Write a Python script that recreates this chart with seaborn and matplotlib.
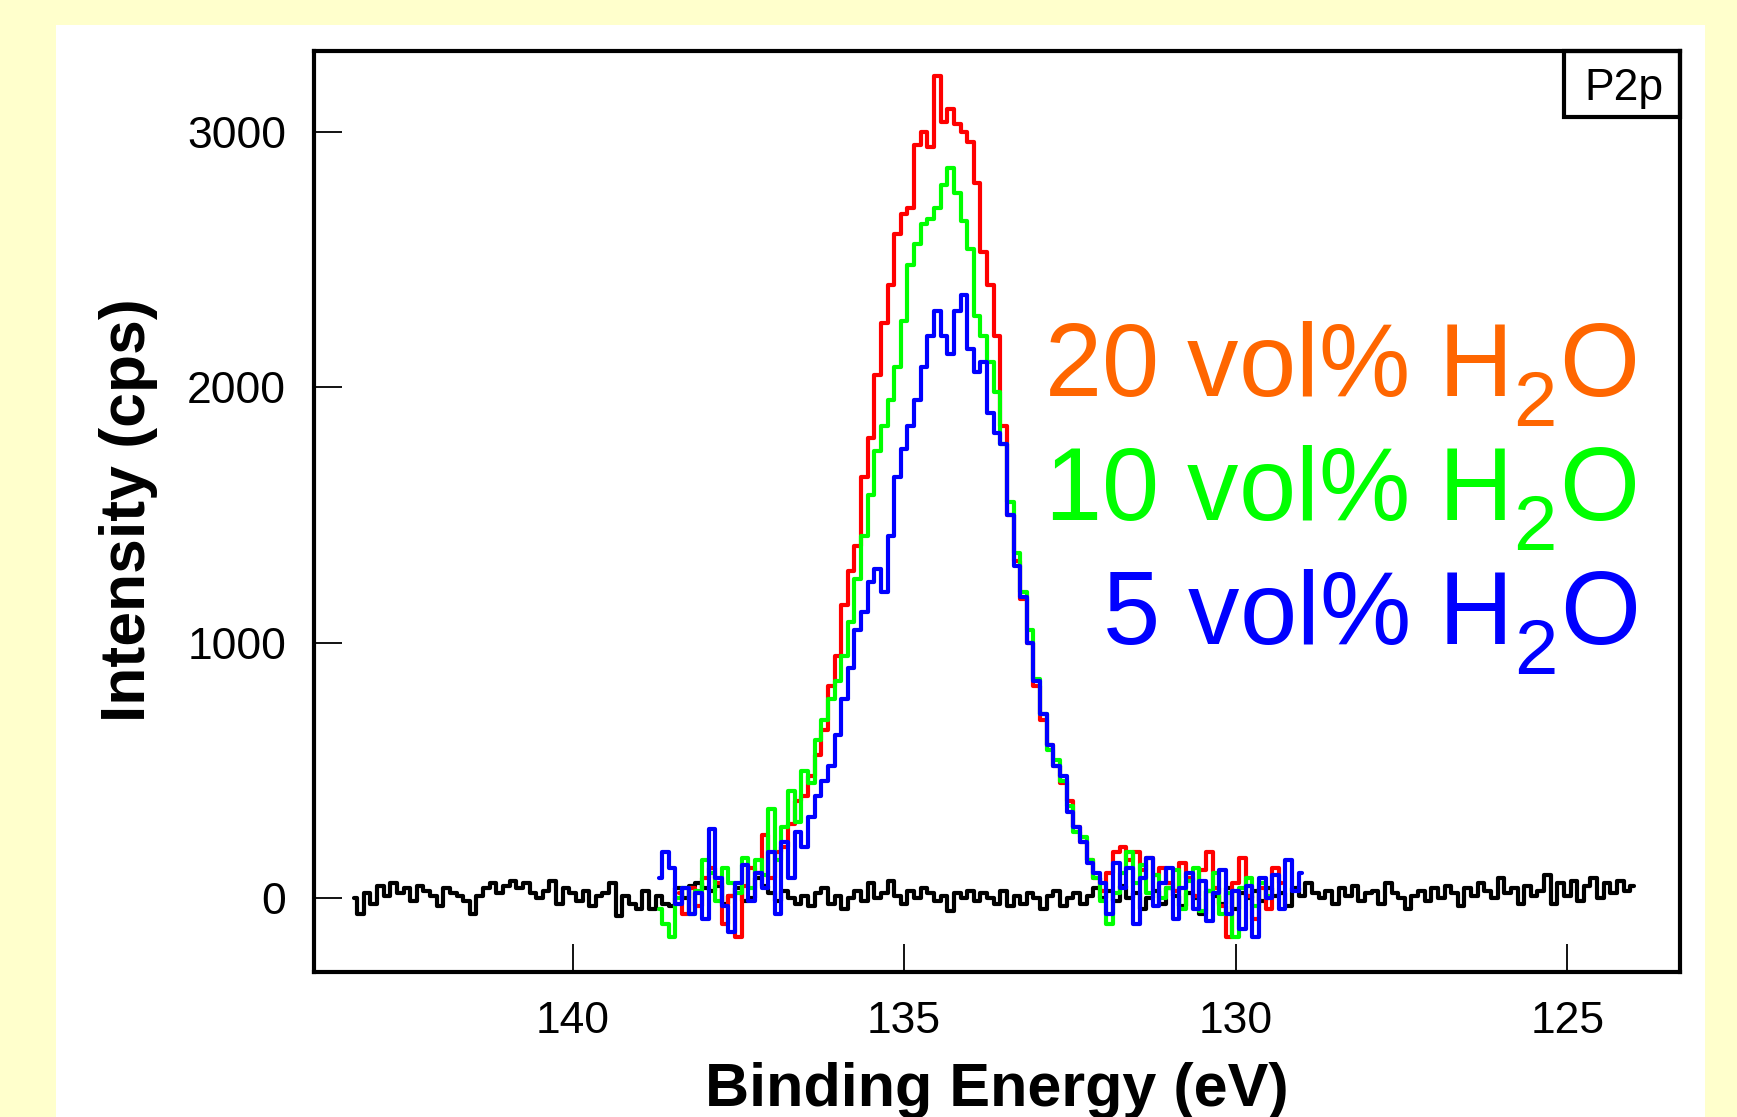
import numpy as np
import pandas as pd
import matplotlib
matplotlib.use("Agg")
import matplotlib.pyplot as plt
import seaborn as sns
from matplotlib.patches import Rectangle

# ---------------- data (binding energy grid start / step, intensity in cps) ----------------
STEP = 0.1
black_start = 143.3
black_vals = [
    0, -60, 20, -20, 50, 10, 60, 20, 40, -10, 50, 30, 10, -30, 40, 20, 10, -10, -60, 10,
    40, 60, 20, 50, 70, 40, 60, 20, 0, 30, 70, -20, 40, 20, -10, 30, -30, 10, 20, 60,
    -70, 10, -20, -40, 30, -40, 10, -20, -30, 40, 0, 50, 60, 40, 30, 50, -20, 10, 40, -10,
    0, 80, 50, 20, -10, 30, 0, -20, 10, -30, 20, 40, -20, 10, -40, 0, 30, -10, 60, 0,
    20, 70, 10, -20, 30, 0, 40, 20, -10, 10, -50, 20, 0, 30, -10, 20, 0, -20, 30, -30,
    10, -20, 20, 0, -40, 10, 30, -30, 0, 20, -20, 10, 40, 0, 30, -10, 50, 0, 20, -40,
    0, 30, -20, 40, 10, -30, 20, 0, -60, 30, 10, -20, 40, -40, 20, 0, 30, -10, 40, 10,
    20, -30, 40, 10, 60, 20, 0, 30, -20, 40, 10, 50, -10, 20, 30, -20, 60, 20, 0, -40,
    10, 30, -10, 40, 0, 50, 20, -30, 40, 10, 60, 30, 0, 80, 20, 40, -20, 50, 10, 30,
    90, -20, 60, 10, 70, -10, 50, 80, 0, 60, 20, 70, 30, 50,
]

red_start = 138.4
red_vals = [
    20, -60, 40, -30, 80, 120, 60, -100, 10, -150,      # 138.4 - 137.5
    50, 120, 100, 250, 80, 180, 200, 290, 380, 400,     # 137.4 - 136.5
    480, 560, 660, 830, 950, 1150, 1280, 1380, 1650, 1800,  # 136.4 - 135.5
    2050, 2250, 2400, 2600, 2680, 2700, 2950, 3000, 2940, 3220,  # 135.4 - 134.5
    3040, 3090, 3030, 3000, 2960, 2800, 2530, 2400, 2200, 1850,  # 134.4 - 133.5
    1500, 1320, 1170, 1000, 830, 700, 600, 520, 450, 380,      # 133.4 - 132.5
    280, 220, 150, 80, 30, 100, 180, 200, 150, 180,            # 132.4 - 131.5
    110, 160, 90, 120, 60, 30, 140, 80, 10, 110,               # 131.4 - 130.5
    180, 40, -30, -150, 60, 160, 10, -80, 40, -40,             # 130.4 - 129.5
    120, 60,                                                   # 129.4 - 129.3
]

green_start = 138.7
green_vals = [
    -40, -100, -150, 0, 40, -60, 30, 150, 100, -10,            # 138.7 - 137.8
    120, 60, 20, 160, 40, 150, 90, 350, 150, 280,              # 137.7 - 136.8
    420, 300, 500, 450, 620, 700, 780, 850, 950, 1080,         # 136.7 - 135.8
    1250, 1420, 1580, 1750, 1850, 1950, 2080, 2260, 2480, 2560,  # 135.7 - 134.8
    2640, 2660, 2700, 2790, 2860, 2760, 2650, 2540, 2280, 2200,  # 134.7 - 133.8
    2100, 1980, 1780, 1550, 1350, 1200, 1050, 860, 720, 580,     # 133.7 - 132.8
    540, 460, 360, 260, 240, 150, 80, -10, -100, 20,             # 132.7 - 131.8
    100, 180, 60, 130, 20, 90, 0, 40, 110, -40,                  # 131.7 - 130.8
    70, 120, -50, 30, 100, -60, 20, -150, 40, 80,                # 130.7 - 129.8
    -30, 60, 10,                                                 # 129.7 - 129.5
]

blue_start = 138.7
blue_vals = [
    80, 180, 120, -20, 40, -60, 20, -80, 270, 80,                # 138.7 - 137.8
    -30, -130, 60, 130, -10, 100, 40, 180, -60, 220,             # 137.7 - 136.8
    80, 260, 200, 320, 400, 460, 520, 640, 780, 900,             # 136.7 - 135.8
    1050, 1120, 1240, 1290, 1200, 1420, 1650, 1760, 1850, 1950,  # 135.7 - 134.8
    2080, 2200, 2300, 2200, 2130, 2300, 2360, 2150, 2060, 2100,  # 134.7 - 133.8
    1900, 1820, 1780, 1500, 1300, 1180, 1000, 850, 720, 600,     # 133.7 - 132.8
    520, 480, 340, 280, 220, 140, 100, 60, -60, 140,             # 132.7 - 131.8
    40, 120, -100, 80, 160, -30, 60, 120, -80, 40,               # 131.7 - 130.8
    100, -40, 70, -90, 20, 110, -60, 30, -120, 50,               # 130.7 - 129.8
    -150, 80, 0, 90, -40, 150, 30, 100,                          # 129.7 - 129.0
]

series_names = ["substrate", "20 vol%", "10 vol%", "5 vol%"]
series_colors = ["#000000", "#FF0000", "#00FF00", "#0000FF"]
label_texts = [r"20 vol% H$_2$O", r"10 vol% H$_2$O", r"5 vol% H$_2$O"]
label_colors = ["#FF6600", "#00FF00", "#0000FF"]
x_ticks = [140, 135, 130, 125]
y_ticks = [0, 1000, 2000, 3000]

# ---------------- build table ----------------
frames = []
for name, start, vals in zip(series_names,
                             [black_start, red_start, green_start, blue_start],
                             [black_vals, red_vals, green_vals, blue_vals]):
    energy = start - STEP * np.arange(len(vals))
    frames.append(pd.DataFrame({"energy": energy, "intensity": vals, "series": name}))
df = pd.concat(frames, ignore_index=True)

# ---------------- style ----------------
sns.set_style("ticks")
plt.rcParams["font.family"] = ["Liberation Sans", "DejaVu Sans"]
plt.rcParams["text.color"] = "black"
plt.rcParams["axes.labelcolor"] = "black"
plt.rcParams["xtick.color"] = "black"
plt.rcParams["ytick.color"] = "black"
plt.rcParams["mathtext.fontset"] = "custom"
plt.rcParams["mathtext.rm"] = "Liberation Sans"
plt.rcParams["mathtext.it"] = "Liberation Sans:italic"
plt.rcParams["mathtext.bf"] = "Liberation Sans:bold"

# larger, lower subscripts (as in the reference's H2O)
try:
    import matplotlib._mathtext as _mt
    _mt.SHRINK_FACTOR = 0.76
    _mt.FontConstantsBase.subdrop = 0.62
    _mt.FontConstantsBase.sub1 = 0.55
except Exception:
    pass

W, H = 1737, 1117
fig = plt.figure(figsize=(W / 100, H / 100), dpi=100, facecolor="#FFFFCC")
panel = Rectangle((56 / W, 0), (1705 - 56) / W, (H - 25) / H,
                  transform=fig.transFigure, facecolor="white",
                  edgecolor="none", zorder=-10)
fig.patches.append(panel)

ax_l, ax_r, ax_t, ax_b = 314, 1680, 51, 972
ax = fig.add_axes([ax_l / W, (H - ax_b) / H, (ax_r - ax_l) / W, (ax_b - ax_t) / H])
ax.set_zorder(5)
ax.set_facecolor("white")

sns.lineplot(data=df, x="energy", y="intensity", hue="series",
             hue_order=series_names, palette=series_colors,
             estimator=None, legend=False, drawstyle="steps-mid",
             linewidth=3.0, ax=ax)

ax.set_xlim(143.9, 123.3)
ax.set_ylim(-288, 3316)
ax.set_xticks(x_ticks)
ax.set_yticks(y_ticks)
ax.set_xlabel("")
ax.set_ylabel("")
ax.tick_params(direction="in", length=20, width=1.3, labelsize=32,
               colors="black", top=False, right=False)
ax.tick_params(axis="x", pad=21)
ax.tick_params(axis="y", pad=20)
for s in ax.spines.values():
    s.set_linewidth(3)
    s.set_color("black")
    s.set_visible(True)

# axis labels
fig.text(997 / W, (H - 1106) / H, "Binding Energy (eV)", ha="center",
         va="baseline", fontsize=44, fontweight="bold", color="black", zorder=10)
fig.text(129 / W, (H - 510) / H, "Intensity (cps)", ha="center", va="center",
         rotation=90, fontsize=45, fontweight="bold", color="black", zorder=10)

# series annotations
for txt, col, yb in zip(label_texts, label_colors, [0.6248, 0.490, 0.3554]):
    ax.text(0.9685, yb, txt, transform=ax.transAxes, ha="right",
            va="baseline", fontsize=74, color=col)

# P2p box
ax.add_patch(Rectangle((0.9151, 0.9283), 1 - 0.9151, 1 - 0.9283,
                       transform=ax.transAxes, fill=False, lw=3,
                       edgecolor="black", clip_on=False, zorder=5))
ax.text(0.9586, 0.9468, "P2p", transform=ax.transAxes, ha="center",
        va="baseline", fontsize=32, zorder=6, color="black")

fig.savefig("out.png", dpi=100, facecolor=fig.get_facecolor())
